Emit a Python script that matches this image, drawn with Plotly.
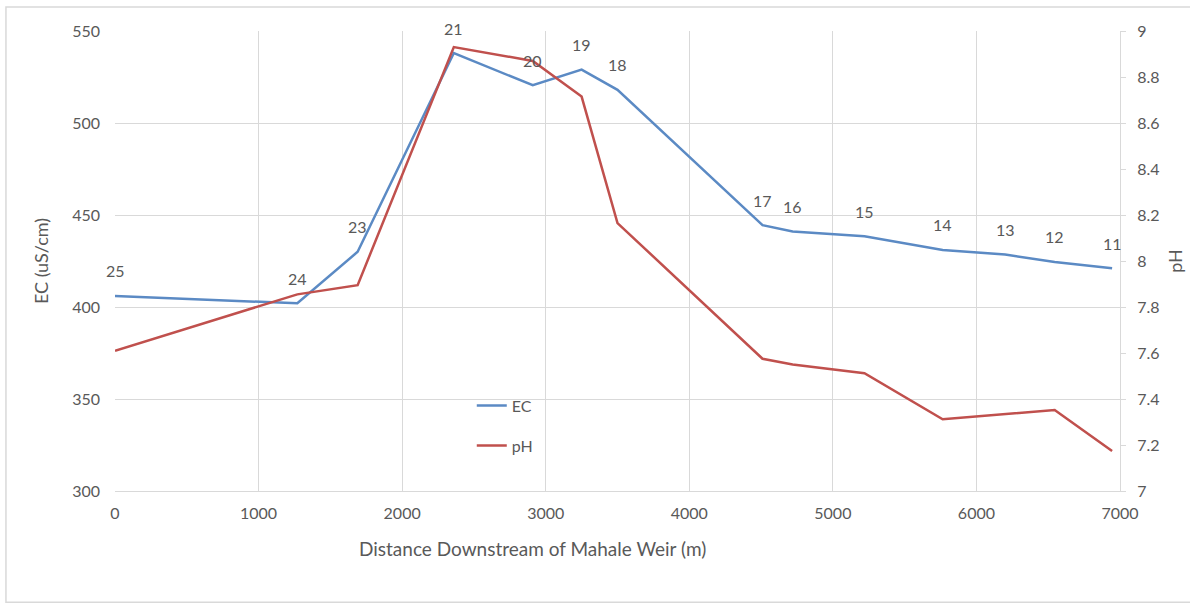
import plotly.graph_objects as go

# ---- data ----
stations = ["25", "24", "23", "21", "20", "19", "18", "17", "16", "15", "14", "13", "12", "11"]
distance_m = [0, 1270, 1690, 2360, 2910, 3250, 3500, 4510, 4720, 5220, 5765, 6200, 6545, 6945]
ec_values = [406, 402, 430, 538, 520.5, 529, 518, 444.5, 441, 438.5, 431, 428.5, 424.5, 421]
ph_values = [7.61, 7.855, 7.895, 8.93, 8.87, 8.715, 8.165, 7.575, 7.55, 7.512, 7.312, 7.333, 7.352, 7.174]

x_ticks = [0, 1000, 2000, 3000, 4000, 5000, 6000, 7000]
ec_ticks = [300, 350, 400, 450, 500, 550]
ph_ticks = [7, 7.2, 7.4, 7.6, 7.8, 8, 8.2, 8.4, 8.6, 8.8, 9]

FONT = "Lato, 'Open Sans', sans-serif"
TXT = "#595959"
GRID = "#d9d9d9"

fig = go.Figure()
fig.add_trace(go.Scatter(x=distance_m, y=ec_values, mode="lines", name="EC",
                         line=dict(color="#5B8AC4", width=2.5), legendgroup="ec"))
fig.add_trace(go.Scatter(x=distance_m, y=ph_values, mode="lines", name="pH",
                         line=dict(color="#C0504D", width=2.5), yaxis="y2", legendgroup="ph"))

for xv, yv, s in zip(distance_m, ec_values, stations):
    fig.add_annotation(x=xv, y=yv, text=s, showarrow=False, yshift=25,
                       font=dict(family=FONT, size=16, color=TXT))

fig.add_annotation(xref="paper", yref="paper", x=0.415, y=-0.124, yanchor="middle",
                   text="Distance Downstream of Mahale Weir (m)", showarrow=False,
                   font=dict(family=FONT, size=19, color=TXT))

fig.add_shape(type="rect", xref="paper", yref="paper", x0=-0.1085, x1=1.0716,
              y0=-0.242, y1=1.052, line=dict(color=GRID, width=1.5), layer="below")

fig.update_layout(
    width=1190, height=609,
    margin=dict(l=115, r=70, t=31, b=118, autoexpand=False),
    paper_bgcolor="white", plot_bgcolor="white",
    font=dict(family=FONT, size=16, color=TXT),
    showlegend=True,
    legend=dict(x=0.355, y=0.142, xanchor="left", yanchor="middle",
                bgcolor="rgba(0,0,0,0)", tracegroupgap=16,
                font=dict(family=FONT, size=16, color=TXT)),
    xaxis=dict(range=[0, 7000], tickvals=x_ticks, showgrid=True, gridcolor=GRID,
               zeroline=False, showline=True, linecolor=GRID, linewidth=1,
               automargin=False,
               ticks="", ticklabelstandoff=8, tickfont=dict(size=16, color=TXT)),
    yaxis=dict(range=[300, 550], tickvals=ec_ticks, showgrid=True, gridcolor=GRID,
               zeroline=False, showline=False, ticks="", ticklabelstandoff=14,
               automargin=False,
               title=dict(text="EC (uS/cm)", standoff=18, font=dict(size=18, color=TXT)),
               tickfont=dict(size=16, color=TXT)),
    yaxis2=dict(range=[7, 9], tickvals=ph_ticks, overlaying="y", side="right",
                showgrid=False, zeroline=False, showline=True, linecolor=GRID,
                automargin=False,
                ticks="outside", ticklen=5, tickcolor=GRID, ticklabelstandoff=8,
                title=dict(text="pH", standoff=10, font=dict(size=18, color=TXT)),
                tickfont=dict(size=16, color=TXT)),
)

fig.write_html("out.html")
